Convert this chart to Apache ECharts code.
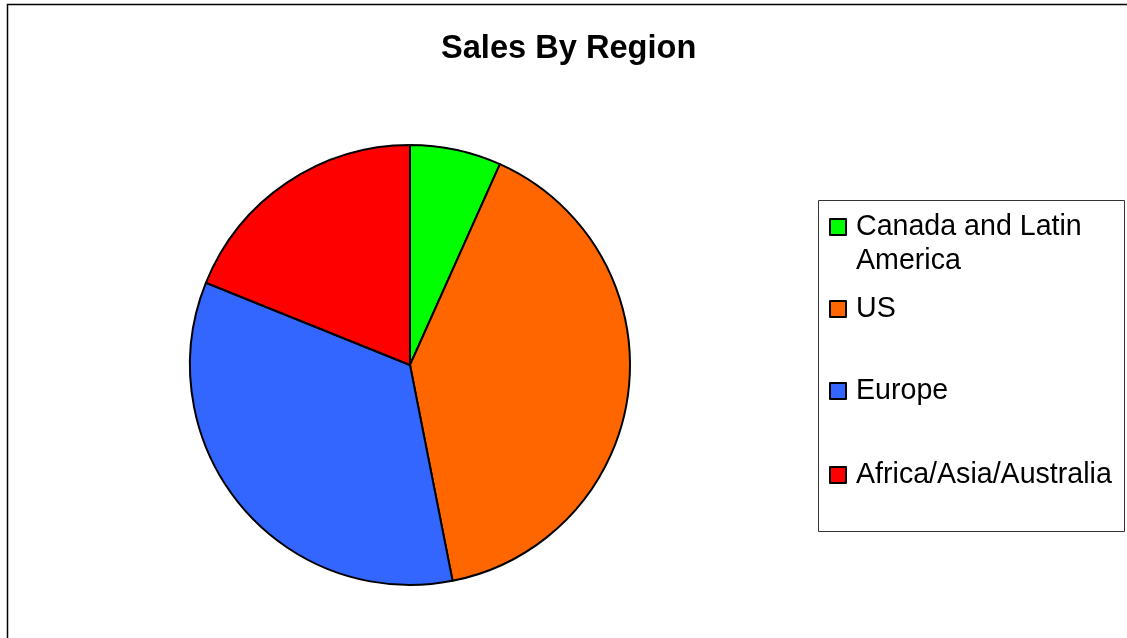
<!DOCTYPE html>
<html>
<head>
<meta charset="utf-8">
<script src="https://cdn.jsdelivr.net/npm/echarts@6/dist/echarts.min.js"></script>
<style>
  html, body { margin: 0; padding: 0; background: #fff; }
  #chart { width: 1127px; height: 638px; }
</style>
</head>
<body>
<div id="chart"></div>
<script>
const regions = ['Canada and Latin America', 'US', 'Europe', 'Africa/Asia/Australia']
const sales = [6.7, 40.2, 34.2, 18.9]
const colors = ['#00ff00', '#ff6600', '#3366ff', '#ff0000']

// legend text per entry; the leading empty line keeps the marker on the first text line
const legendLabels = ['\nCanada and Latin\nAmerica', 'US', 'Europe', 'Africa/Asia/Australia']
// vertical padding only widens each entry's box (Excel-like spacing)
const legendPads = [[0, 0, 0, 5], [14, 0, 14, 5], [34, 0, 34, 5], [16, 0, 16, 5]]

const chart = echarts.init(document.getElementById('chart'), null, { renderer: 'canvas' })

const option = {
    animation: false,
    backgroundColor: '#fff',
    title: {
        text: 'Sales By Region',
        left: 441,
        top: 33,
        padding: 0,
        textStyle: {
            fontFamily: 'Liberation Sans, Arial, sans-serif',
            fontSize: 32.6,
            fontWeight: 'bold',
            color: '#000'
        }
    },
    legend: {
        orient: 'vertical',
        left: 829,
        top: 176,
        padding: 0,
        itemGap: 0,
        itemWidth: 16,
        itemHeight: 16,
        icon: 'rect',
        selectedMode: false,
        itemStyle: { borderColor: '#000', borderWidth: 2 },
        formatter: name => legendLabels[regions.indexOf(name)],
        textStyle: {
            fontFamily: 'Liberation Sans, Arial, sans-serif',
            fontSize: 28.6,
            lineHeight: 34,
            color: '#000'
        },
        data: regions.map((name, i) => ({
            name: name,
            textStyle: { padding: legendPads[i] }
        }))
    },
    graphic: [
        {
            type: 'rect',
            shape: { x: 7.5, y: 4.5, width: 1200, height: 700 },
            style: { fill: 'none', stroke: '#000', lineWidth: 1.5 },
            z: -1
        },
        {
            type: 'rect',
            shape: { x: 818.5, y: 200.5, width: 306, height: 331 },
            style: { fill: 'none', stroke: '#333', lineWidth: 1 },
            z: -1
        }
    ],
    series: [
        {
            type: 'pie',
            center: [410, 365],
            radius: 220,
            startAngle: 90,
            clockwise: true,
            avoidLabelOverlap: false,
            label: { show: false },
            labelLine: { show: false },
            emphasis: { disabled: true },
            itemStyle: { borderColor: '#000', borderWidth: 2 },
            data: regions.map((name, i) => ({
                name: name,
                value: sales[i],
                itemStyle: { color: colors[i] }
            }))
        }
    ]
}

chart.setOption(option)
</script>
</body>
</html>
